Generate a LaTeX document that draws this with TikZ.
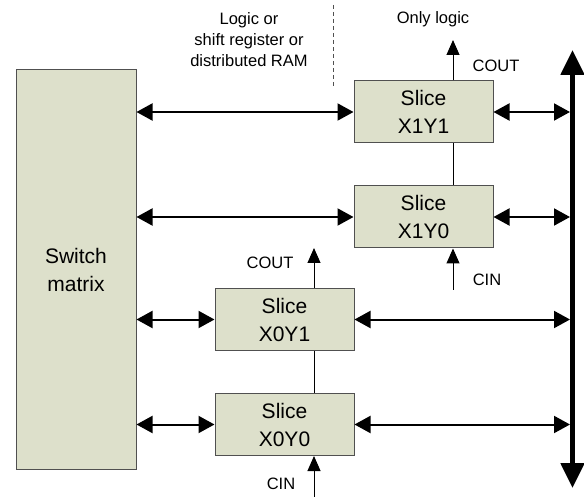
\documentclass[tikz,border=0pt]{standalone}
\usepackage{fontspec}
\setmainfont{Liberation Sans}
\usetikzlibrary{arrows.meta}
\definecolor{slicefill}{RGB}{221,224,203}
\definecolor{boxline}{RGB}{80,80,80}
\tikzset{
  blockbox/.style={draw=boxline, line width=1pt, fill=slicefill, inner sep=0pt,
    align=center, font=\fontsize{21}{28}\selectfont},
  slicebox/.style={blockbox, minimum width=139pt, minimum height=62pt},
  smalllabel/.style={inner sep=0pt, align=center, font=\fontsize{16.5}{21}\selectfont},
  harrow/.style={line width=2pt, {Triangle[length=16pt,width=17pt]}-{Triangle[length=16pt,width=17pt]}},
  varrow/.style={line width=1pt, -{Triangle[length=15pt,width=13pt]}},
  chain/.style={line width=1pt},
  busline/.style={line width=5pt, {Triangle[length=25pt,width=23pt]}-{Triangle[length=25pt,width=23pt]}},
}
\begin{document}
\begin{tikzpicture}[x=1pt,y=-1pt]
\useasboundingbox (0,0) rectangle (584,497);

% blocks
\node[blockbox, minimum width=120pt, minimum height=399pt] (sw) at (76,269.5) {Switch\\matrix};
\node[slicebox] (x1y1) at (423.5,112) {Slice\\X1Y1};
\node[slicebox] (x1y0) at (423.5,217) {Slice\\X1Y0};
\node[slicebox] (x0y1) at (284.5,319.5) {Slice\\X0Y1};
\node[slicebox] (x0y0) at (284.5,424.5) {Slice\\X0Y0};

% vertical bus on the right
\coordinate (bustop) at (572.5,50);
\coordinate (busbot) at (572.5,488);
\coordinate (busw) at (570,0);
\draw[busline] (busbot) -- (bustop);

% switch matrix to slices
\draw[harrow] (sw.east |- x1y1.west) -- (x1y1.west);
\draw[harrow] (sw.east |- x1y0.west) -- (x1y0.west);
\draw[harrow] (sw.east |- x0y1.west) -- (x0y1.west);
\draw[harrow] (sw.east |- x0y0.west) -- (x0y0.west);

% slices to bus
\draw[harrow] (x1y1.east) -- (x1y1.east -| busw);
\draw[harrow] (x1y0.east) -- (x1y0.east -| busw);
\draw[harrow] (x0y1.east) -- (x0y1.east -| busw);
\draw[harrow] (x0y0.east) -- (x0y0.east -| busw);

% carry chains
\draw[chain] ([xshift=29.5pt]x1y1.south) -- ([xshift=29.5pt]x1y0.north);
\draw[chain] ([xshift=29.5pt]x0y1.south) -- ([xshift=29.5pt]x0y0.north);

\coordinate (cout1) at (453,40);
\coordinate (cin1) at (453,290);
\coordinate (cout0) at (314,248);
\coordinate (cin0) at (314,497);
\draw[varrow] ([xshift=29.5pt]x1y1.north) -- (cout1);
\draw[varrow] (cin1) -- ([xshift=29.5pt]x1y0.south);
\draw[varrow] ([xshift=29.5pt]x0y1.north) -- (cout0);
\draw[varrow] (cin0) -- ([xshift=29.5pt]x0y0.south);

% labels
\node[smalllabel] (lcout1) at (496,66) {COUT};
\node[smalllabel] (lcin1) at (487,280) {CIN};
\node[smalllabel] (lcout0) at (270,263) {COUT};
\node[smalllabel] (lcin0) at (281,484) {CIN};
\node[smalllabel] (lonly) at (433,19) {Only logic};
\node[smalllabel] (lmode) at (249,40) {Logic or\\shift register or\\distributed RAM};

% separator between the two slice columns
\coordinate (sepa) at (333,5);
\coordinate (sepb) at (333,88);
\draw[line width=1pt, draw=boxline, dash pattern=on 4pt off 3pt] (sepa) -- (sepb);
\end{tikzpicture}
\end{document}
